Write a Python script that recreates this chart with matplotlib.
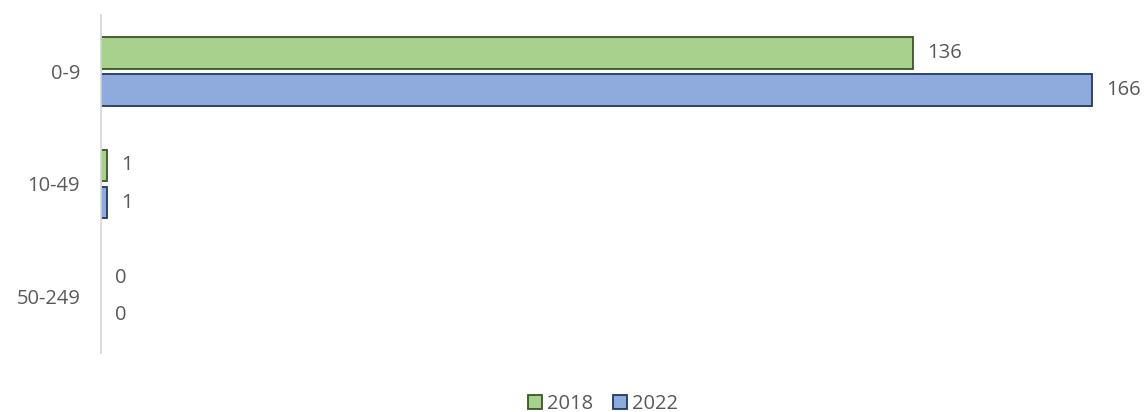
import numpy as np
import matplotlib.pyplot as plt
from matplotlib.patches import Patch

#------------------------------------------------------------------------------#
# Data
#------------------------------------------------------------------------------#
categories = ['0-9', '10-49', '50-249']
vals_2018 = [136, 1, 0]
vals_2022 = [166, 1, 0]
series_names = ['2018', '2022']

#------------------------------------------------------------------------------#
# Style
#------------------------------------------------------------------------------#
plt.rcParams['font.family'] = ['Open Sans', 'DejaVu Sans']
text_col = '#595959'
green_fill, green_edge = '#A9D18E', '#385723'
blue_fill, blue_edge = '#8FAADC', '#203864'
fs = 14.5

fig = plt.figure(figsize=(11.46, 4.12), dpi=100)
ax = fig.add_axes([0.0881, 0.1432, 0.8909, 0.8204])

y = np.arange(len(categories))
h = 0.28
off = 0.165

b1 = ax.barh(y - off, vals_2018, height=h, color=green_fill, edgecolor=green_edge, linewidth=1.3)
b2 = ax.barh(y + off, vals_2022, height=h, color=blue_fill, edgecolor=blue_edge, linewidth=1.3)

# value labels, zero bars get no outline
for bars, vals in [(b1, vals_2018), (b2, vals_2022)]:
    for bar, v in zip(bars, vals):
        if v == 0:
            bar.set_linewidth(0)
        ax.annotate(str(v), (bar.get_width(), bar.get_y() + bar.get_height() / 2),
                    xytext=(10, 0), textcoords='offset points', ha='left', va='center',
                    fontsize=fs, color=text_col, annotation_clip=False)

ax.set_xlim(0, 171)
ax.set_ylim(2.5, -0.5)
ax.set_yticks(y)
ax.set_yticklabels(categories, fontsize=fs, color=text_col)
ax.tick_params(axis='y', length=0, pad=15)
ax.set_xticks([])

for s in ['top', 'right', 'bottom']:
    ax.spines[s].set_visible(False)
ax.spines['left'].set_color('#D9D9D9')
ax.spines['left'].set_linewidth(1.3)

handles = [Patch(facecolor=green_fill, edgecolor=green_edge, linewidth=1.3),
           Patch(facecolor=blue_fill, edgecolor=blue_edge, linewidth=1.3)]
leg = fig.legend(handles, series_names, loc='center', bbox_to_anchor=(0.526, 0.02), ncol=2,
                 frameon=False, fontsize=fs, handlelength=0.7, handleheight=0.7,
                 handletextpad=0.25, columnspacing=1.0, borderpad=0)
for t in leg.get_texts():
    t.set_color(text_col)

fig.savefig('out.png', dpi=100)
